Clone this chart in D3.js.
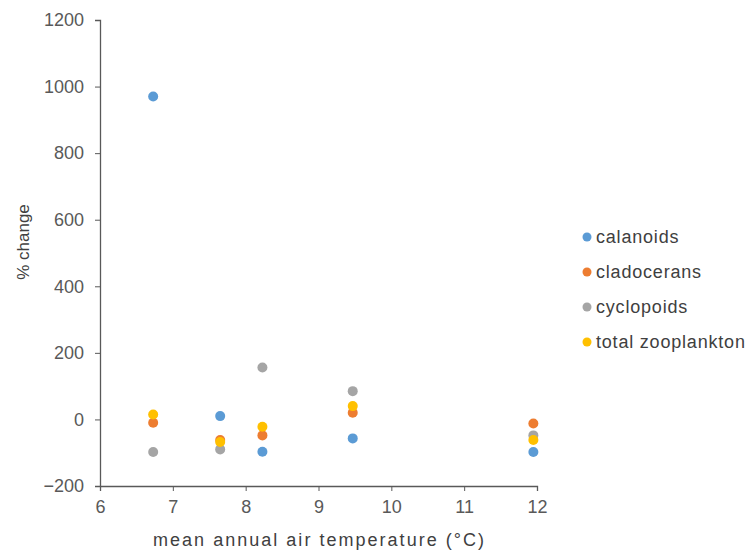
<!DOCTYPE html>
<html><head><meta charset="utf-8">
<script src="https://cdn.jsdelivr.net/npm/d3@7"></script>
<style>body{margin:0;background:#fff}svg{display:block}</style>
</head><body><svg id="c" width="748" height="555"></svg>
<script>
const temps = [6.73, 7.65, 8.23, 9.47, 11.95];
const calanoids = [970, 10, -97, -57, -98];
const cladocerans = [-10, -62, -48, 20, -12];
const cyclopoids = [-98, -90, 156, 85, -48];
const totalZooplankton = [15, -68, -22, 40, -62];
const seriesNames = ["calanoids", "cladocerans", "cyclopoids", "total zooplankton"];
const seriesColors = ["#5B9BD5", "#ED7D31", "#A5A5A5", "#FFC000"];
const xTicks = [6, 7, 8, 9, 10, 11, 12];
const yTicks = [-200, 0, 200, 400, 600, 800, 1000, 1200];
const seriesValues = [calanoids, cladocerans, cyclopoids, totalZooplankton];

const svg = d3.select("#c");
const x = d3.scaleLinear().domain([6, 12]).range([100, 537]);
const y = d3.scaleLinear().domain([-200, 1200]).range([486, 20]);
const font = "'Liberation Sans', Arial, sans-serif";
const axisColor = "#595959";

const gx = svg.append("g").attr("transform", `translate(0,${y(-200)})`)
  .call(d3.axisBottom(x).tickValues(xTicks).tickSize(5).tickPadding(9).tickFormat(d3.format("d")));
const gy = svg.append("g").attr("transform", `translate(${x(6)},0)`)
  .call(d3.axisLeft(y).tickValues(yTicks).tickSize(5).tickPadding(11).tickFormat(d3.format("d")));
[gx, gy].forEach(g => {
  g.select(".domain").attr("stroke", axisColor).attr("stroke-width", 1.3);
  g.selectAll(".tick line").attr("stroke", axisColor).attr("stroke-width", 1);
  g.selectAll(".tick text").attr("fill", "#595959").style("font-family", font).style("font-size", "18px");
});

seriesValues.forEach((vals, si) => {
  svg.append("g").selectAll("circle").data(vals).join("circle")
    .attr("cx", (d, i) => x(temps[i])).attr("cy", d => y(d))
    .attr("r", 5).attr("fill", seriesColors[si]);
});

svg.append("text").attr("x", 153).attr("y", 546)
  .attr("textLength", 331).attr("lengthAdjust", "spacing")
  .attr("fill", "#404040").style("font-family", font).style("font-size", "18px")
  .text("mean annual air temperature (°C)");
svg.append("text").attr("transform", "translate(29,242) rotate(-90)").attr("text-anchor", "middle")
  .attr("fill", "#404040").style("font-family", font).style("font-size", "17px")
  .text("% change");

const leg = svg.append("g");
seriesNames.forEach((n, i) => {
  const yy = 237 + i * 35;
  leg.append("circle").attr("cx", 587).attr("cy", yy).attr("r", 4.5).attr("fill", seriesColors[i]);
  leg.append("text").attr("x", 596).attr("y", yy + 6).attr("fill", "#404040")
    .style("font-family", font).style("font-size", "18px").style("letter-spacing", "0.8px").text(n);
});
</script></body></html>
